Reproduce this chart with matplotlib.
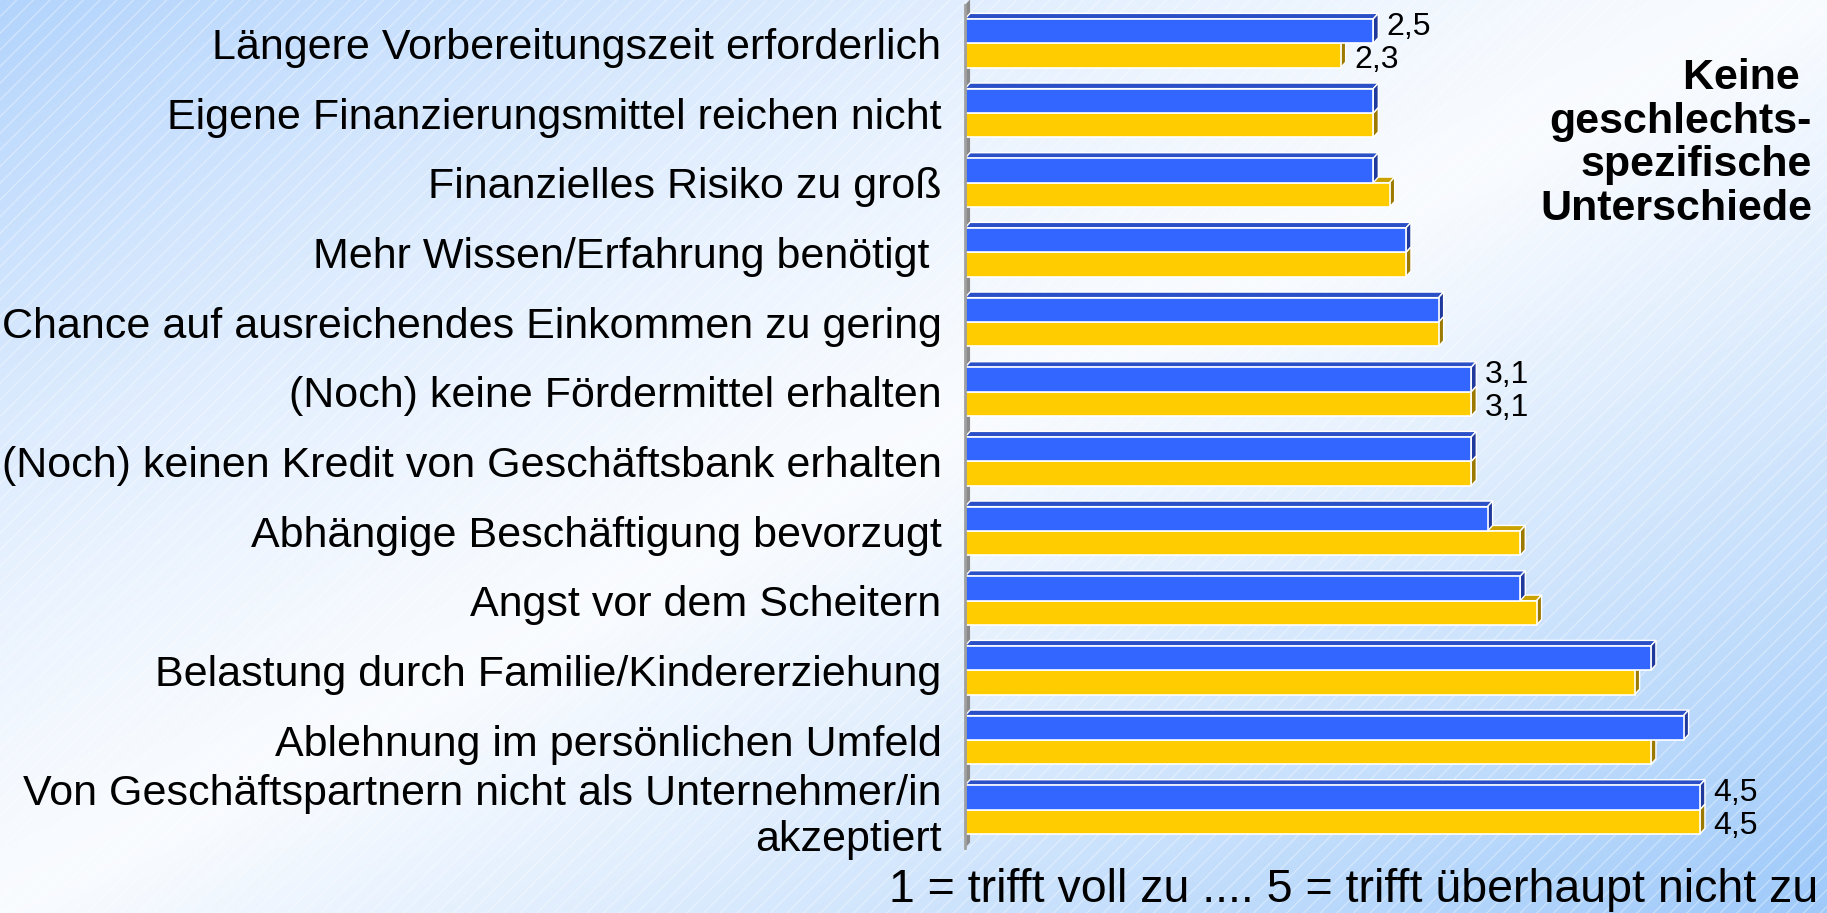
import numpy as np
import matplotlib
matplotlib.use("Agg")
from matplotlib import pyplot as plt
from matplotlib.patches import Polygon, Rectangle

plt.rcParams['font.family'] = ['Liberation Sans', 'DejaVu Sans']

# Gründe gegen Selbständigkeit, Mittelwerte (1 = trifft voll zu ... 5 = trifft überhaupt nicht zu)
categories = [
    "Längere Vorbereitungszeit erforderlich",
    "Eigene Finanzierungsmittel reichen nicht",
    "Finanzielles Risiko zu groß",
    "Mehr Wissen/Erfahrung benötigt ",
    "Chance auf ausreichendes Einkommen zu gering",
    "(Noch) keine Fördermittel erhalten",
    "(Noch) keinen Kredit von Geschäftsbank erhalten",
    "Abhängige Beschäftigung bevorzugt",
    "Angst vor dem Scheitern",
    "Belastung durch Familie/Kindererziehung",
    "Ablehnung im persönlichen Umfeld",
    "Von Geschäftspartnern nicht als Unternehmer/in\nakzeptiert",
]
werte_blau = [2.5, 2.5, 2.5, 2.7, 2.9, 3.1, 3.1, 3.2, 3.4, 4.2, 4.4, 4.5]
werte_gelb = [2.3, 2.5, 2.6, 2.7, 2.9, 3.1, 3.1, 3.4, 3.5, 4.1, 4.2, 4.5]
# nur diese Zeilen bekommen Wertbeschriftungen
beschriftet = [0, 5, 11]

hinweis = "Keine \ngeschlechts-\nspezifische\nUnterschiede"
skala = "1 = trifft voll zu .... 5 = trifft überhaupt nicht zu"

c_blau, c_blau_oben, c_blau_seite = '#3366ff', '#2a4fc6', '#1f3a9c'
c_gelb, c_gelb_oben, c_gelb_seite = '#ffcc00', '#c9a200', '#9c7a00'

fig = plt.figure(figsize=(18.27, 9.13), dpi=100)

# Hintergrund: Verlauf blau -> weiss -> blau entlang der Diagonale
bg = fig.add_axes([0, 0, 1, 1], zorder=-10)
H, W = 300, 600
u = np.linspace(0, 1, W)[None, :]
v = np.linspace(0, 1, H)[:, None]
d = u + v - 1
t = np.where(d > 0, np.clip(d, 0, 1) ** 1.1, np.clip(-d, 0, 1) ** 1.4)
weiss = np.array([0.975, 0.985, 1.0])
blau_ur = np.array([0.62, 0.79, 0.98])
blau_ol = np.array([0.70, 0.83, 0.99])
ziel = np.where(d[..., None] > 0, blau_ur, blau_ol)
img = weiss * (1 - t[..., None]) + ziel * t[..., None]
bg.imshow(img, aspect='auto', extent=[0, 1, 0, 1], origin='upper')
bg.add_patch(Rectangle((0, 0), 1, 1, transform=bg.transAxes, facecolor='none',
                       edgecolor=(1, 1, 1, 0.35), hatch='//', linewidth=0))
bg.set_xlim(0, 1)
bg.set_ylim(0, 1)
bg.axis('off')

ax = fig.add_axes([965 / 1827, 0.0712, 816.5 / 1827, 0.9233])
ax.patch.set_alpha(0)
n = len(categories)
ax.set_xlim(0, 5)
ax.set_ylim(n - 1 + 0.55, -0.55)

h = 0.35      # Balkenhöhe
dx = 0.031    # 3D-Tiefe in x
dy = 0.08     # 3D-Tiefe in y

# Wand (grau)
ylo, yhi = -0.55, n - 1 + 0.55
ax.add_patch(Polygon([(0, ylo), (dx, ylo - dy), (dx, yhi - dy), (0, yhi)],
                     closed=True, facecolor='#8a8a8a', edgecolor='none', zorder=1, clip_on=False))


def balken_3d(werte, oben, farbe, f_oben, f_seite, z):
    for i, val in enumerate(werte):
        y0 = oben[i]
        y1 = y0 + h
        ax.add_patch(Polygon([(0, y0), (val, y0), (val + dx, y0 - dy), (dx, y0 - dy)],
                             closed=True, facecolor=f_oben, edgecolor='white', linewidth=1, zorder=z))
        ax.add_patch(Polygon([(val, y0), (val + dx, y0 - dy), (val + dx, y1 - dy), (val, y1)],
                             closed=True, facecolor=f_seite, edgecolor='white', linewidth=1, zorder=z))
    ax.barh([y + h / 2 for y in oben], werte, height=h, color=farbe,
            edgecolor='white', linewidth=1.2, zorder=z)


pos = np.arange(n)
balken_3d(werte_gelb, pos, c_gelb, c_gelb_oben, c_gelb_seite, 2)
balken_3d(werte_blau, pos - h, c_blau, c_blau_oben, c_blau_seite, 3)

for i in beschriftet:
    ax.annotate(f"{werte_blau[i]:.1f}".replace('.', ','), (werte_blau[i] + dx, pos[i] - h / 2),
                xytext=(6, 3), textcoords='offset points', ha='left', va='center', fontsize=23)
    ax.annotate(f"{werte_gelb[i]:.1f}".replace('.', ','), (werte_gelb[i] + dx, pos[i] + h / 2),
                xytext=(6, -3), textcoords='offset points', ha='left', va='center', fontsize=23)

ax.set_yticks(pos)
ax.set_yticklabels(categories, fontsize=31)
ax.tick_params(axis='y', length=0, pad=17)
ax.set_xticks([])
for s in ['top', 'right', 'bottom']:
    ax.spines[s].set_visible(False)
ax.spines['left'].set_color('#a0a0a0')
ax.spines['left'].set_linewidth(2)
ax.spines['left'].set_zorder(4)

fig.text(1812 / 1827, 1 - 58 / 913, hinweis, ha='right', va='top', fontsize=31,
         fontweight='bold', linespacing=1.12)
fig.text(1818 / 1827, 11 / 913, skala, ha='right', va='baseline', fontsize=33.5)

plt.savefig('out.png', dpi=100)
